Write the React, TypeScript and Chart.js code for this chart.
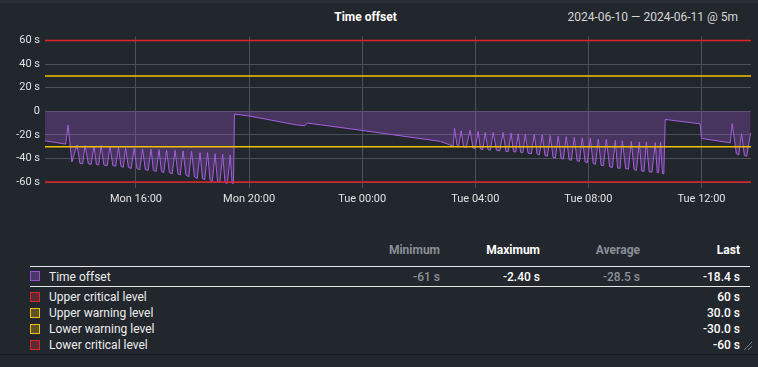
import React, { useEffect, useRef } from "react";
import { Chart, registerables } from "chart.js";

Chart.register(...registerables);

// Time axis: minutes since Mon 2024-06-10 00:00
const xRange = [767, 2265];
const xTicks = [960, 1200, 1440, 1680, 1920, 2160];
const yTicks = [-60, -40, -20, 0, 20, 40, 60];

// Time offset series (minutes, seconds)
const times = [
  767, 811, 816, 824,
  835, 841, 847, 852, 859, 865, 871, 876, 881, 886, 892, 899,
  905, 911, 917, 923, 928, 933, 938, 944, 950, 956, 962, 968,
  974, 980, 986, 992, 997, 1003, 1009, 1014, 1019, 1025, 1031, 1037,
  1043, 1049, 1054, 1060, 1066, 1072, 1078, 1084, 1090, 1096, 1101, 1106,
  1112, 1117, 1122, 1128, 1133, 1138, 1144, 1149, 1154, 1160, 1164, 1167,
  1169, 1200, 1300, 1318, 1324, 1440, 1606, 1633,
  1636, 1641, 1645, 1650, 1655, 1661, 1669, 1675, 1680, 1686, 1691, 1696,
  1701, 1707, 1712, 1718, 1725, 1732, 1739, 1745, 1750, 1756, 1761, 1766,
  1771, 1776, 1781, 1786, 1792, 1799, 1805, 1811, 1816, 1822, 1828, 1833,
  1839, 1845, 1850, 1856, 1862, 1867, 1873, 1879, 1884, 1890, 1896, 1901,
  1907, 1913, 1918, 1924, 1930, 1935, 1941, 1947, 1952, 1958, 1965, 1971,
  1977, 1982, 1987, 1992, 1999, 2005, 2011, 2017, 2022, 2028, 2033, 2038,
  2043, 2049, 2055, 2062, 2066, 2069, 2073, 2077, 2080,
  2083, 2157, 2160, 2221, 2225, 2234, 2239, 2245, 2251, 2256, 2264,
];
const offsets = [
  -25, -27.8, -11.7, -43,
  -28.5, -44, -44.5, -29, -44.5, -45, -29.5, -45, -45.5, -29, -45.5, -46,
  -30, -46, -46.5, -30.5, -46.5, -47.5, -31, -47.5, -48.5, -31.5, -48.5, -49.5,
  -32, -49.5, -50, -32, -50, -51, -32.5, -51, -52, -33, -52, -53,
  -33, -53, -54, -33.5, -54, -55.5, -34, -55.5, -57, -35, -57, -58,
  -35, -58, -59.5, -36, -59.5, -60.5, -36.5, -60.5, -61, -37, -61, -61,
  -2.4, -4, -11.5, -12.2, -10, -16.2, -25.5, -29.5,
  -14.5, -28.6, -29, -16.5, -30, -30.5, -16, -31, -31.5, -17, -32, -32.5,
  -18, -32.5, -33, -18, -33, -33.5, -18, -34, -34, -18.5, -34, -34.5,
  -19, -34.7, -35, -19.5, -35.5, -36, -19.5, -36, -37, -20, -37.5, -38,
  -20.5, -39, -39.5, -21, -40, -40.5, -21.5, -41, -41.5, -22, -42, -42.5,
  -22.5, -43, -43.5, -23, -44, -45, -23.5, -45.8, -46, -24, -47, -47.5,
  -24.5, -48, -48.5, -25, -48.6, -49, -25.5, -49.5, -50, -26, -50.6, -51,
  -26, -51.4, -51.5, -26.5, -52, -52, -26, -52.8, -53,
  -6.9, -10.6, -23, -26.7, -10.5, -36, -37, -19, -37.5, -38, -18.4,
];

// Threshold levels (seconds)
const upperCritical = 60;
const upperWarning = 30;
const lowerWarning = -30;
const lowerCritical = -60;

// Legend table
const legendHeaders = ["Minimum", "Maximum", "Average", "Last"];
const seriesStats = ["-61 s", "-2.40 s", "-28.5 s", "-18.4 s"];
const levelNames = ["Upper critical level", "Upper warning level", "Lower warning level", "Lower critical level"];
const levelLast = ["60 s", "30.0 s", "-30.0 s", "-60 s"];

const RED = "#e0242a";
const YELLOW = "#f2c200";
const PURPLE = "#a65fdc";
const FONT = "Roboto, 'Noto Sans', sans-serif";

function fmtTime(v: number): string {
  const day = Math.floor(v / 1440);
  const mins = v - day * 1440;
  const h = Math.floor(mins / 60);
  const m = Math.round(mins - h * 60);
  const dn = day === 0 ? "Mon" : "Tue";
  return `${dn} ${String(h).padStart(2, "0")}:${String(m).padStart(2, "0")}`;
}

function levelLine(v: number) {
  return [
    { x: xRange[0], y: v },
    { x: xRange[1], y: v },
  ];
}

export default function App() {
  const ref = useRef<HTMLCanvasElement | null>(null);

  useEffect(() => {
    if (!ref.current) return;
    const series = times.map((t, i) => ({ x: t, y: offsets[i] }));
    const lineDs = (data: any, color: string) => ({
      data,
      borderColor: color,
      borderWidth: 1.5,
      pointRadius: 0,
      fill: false,
      order: 0,
    });
    const chart = new Chart(ref.current, {
      type: "line",
      data: {
        datasets: [
          {
            data: series,
            borderColor: PURPLE,
            borderWidth: 1,
            pointRadius: 0,
            tension: 0,
            fill: "origin",
            backgroundColor: "rgba(150, 88, 205, 0.32)",
            order: 10,
          } as any,
          lineDs(levelLine(upperCritical), RED),
          lineDs(levelLine(upperWarning), YELLOW),
          lineDs(levelLine(lowerWarning), YELLOW),
          lineDs(levelLine(lowerCritical), RED),
        ],
      },
      options: {
        animation: false,
        responsive: false,
        maintainAspectRatio: false,
        layout: { padding: { top: 9, right: 7, left: 0, bottom: 0 } },
        plugins: {
          legend: { display: false },
          tooltip: { enabled: false },
          title: { display: false },
        },
        scales: {
          x: {
            type: "linear",
            min: xRange[0],
            max: xRange[1],
            afterBuildTicks: (s: any) => {
              s.ticks = xTicks.map((v) => ({ value: v }));
            },
            afterFit: (s: any) => {
              s.height = 22;
            },
            ticks: {
              color: "#e2e2e2",
              font: { family: FONT, size: 11 },
              padding: 5,
              maxRotation: 0,
              autoSkip: false,
              callback: (v: any) => fmtTime(Number(v)),
            },
            grid: { color: "#4b5059", drawTicks: false, lineWidth: 1 },
            border: { display: false },
          },
          y: {
            type: "linear",
            min: -65,
            max: 63.3,
            afterBuildTicks: (s: any) => {
              s.ticks = yTicks.map((v) => ({ value: v }));
            },
            afterFit: (s: any) => {
              s.width = 45;
            },
            ticks: {
              color: "#e2e2e2",
              font: { family: FONT, size: 11 },
              padding: 5,
              autoSkip: false,
              callback: (v: any) => (Number(v) === 0 ? "0" : `${v} s`),
            },
            grid: { color: "#4b5059", drawTicks: false, lineWidth: 1 },
            border: { display: false },
          },
        },
      } as any,
    });
    return () => chart.destroy();
  }, []);

  const abs = (s: React.CSSProperties): React.CSSProperties => ({ position: "absolute", ...s });
  const colRight = [318, 218, 118, 18];
  const swatch = (border: string, fill: string, top: number) => (
    <div
      style={abs({
        left: 30,
        top,
        width: 8,
        height: 8,
        border: `1.5px solid ${border}`,
        background: fill,
      })}
    />
  );
  const rowCenters = [297, 313, 329, 345];
  const levelColors = [
    [RED, "#5a2a31"],
    [YELLOW, "#5c5128"],
    [YELLOW, "#5c5128"],
    [RED, "#5a2a31"],
  ];
  const headerColors = ["#8b9098", "#ffffff", "#8b9098", "#ffffff"];
  const statColors = ["#8b9098", "#ffffff", "#8b9098", "#ffffff"];

  return (
    <div
      style={{
        position: "fixed",
        left: 0,
        top: 0,
        width: 758,
        height: 367,
        background: "#22262d",
        fontFamily: FONT,
        overflow: "hidden",
      }}
    >
      <div style={abs({ left: 0, top: 0, width: 758, height: 3, background: "#2a2e35" })} />
      <div
        style={abs({
          left: 300,
          width: 131,
          top: 10,
          textAlign: "center",
          color: "#ffffff",
          fontWeight: 700,
          fontSize: 12,
          lineHeight: "14px",
        })}
      >
        Time offset
      </div>
      <div
        style={abs({
          right: 20,
          top: 10,
          color: "#d6d6d6",
          fontSize: 12,
          lineHeight: "14px",
          whiteSpace: "nowrap",
        })}
      >
        2024-06-10 — 2024-06-11 @ 5m
      </div>
      <canvas ref={ref} width={758} height={185} style={abs({ left: 0, top: 25, width: 758, height: 185 })} />

      {legendHeaders.map((h, i) => (
        <div
          key={h}
          style={abs({
            right: colRight[i],
            top: 243,
            color: headerColors[i],
            fontWeight: 700,
            fontSize: 12,
            lineHeight: "14px",
          })}
        >
          {h}
        </div>
      ))}
      <div style={abs({ left: 30, top: 266, width: 720, height: 1, background: "#e6e6e6" })} />
      {swatch("#9a4fcc", "#4a3868", 271)}
      <div style={abs({ left: 49, top: 270, color: "#eeeeee", fontSize: 12, lineHeight: "14px" })}>
        Time offset
      </div>
      {seriesStats.map((s, i) => (
        <div
          key={i}
          style={abs({
            right: colRight[i],
            top: 270,
            color: statColors[i],
            fontWeight: 500,
            fontSize: 12,
            lineHeight: "14px",
          })}
        >
          {s}
        </div>
      ))}
      <div style={abs({ left: 30, top: 286, width: 720, height: 1, background: "#e6e6e6" })} />
      {levelNames.map((n, i) => (
        <React.Fragment key={n}>
          {swatch(levelColors[i][0], levelColors[i][1], rowCenters[i] - 5.5)}
          <div
            style={abs({
              left: 49,
              top: rowCenters[i] - 7,
              color: "#eeeeee",
              fontSize: 12,
              lineHeight: "14px",
            })}
          >
            {n}
          </div>
          <div
            style={abs({
              right: colRight[3],
              top: rowCenters[i] - 7,
              color: "#ffffff",
              fontWeight: 500,
              fontSize: 12,
              lineHeight: "14px",
            })}
          >
            {levelLast[i]}
          </div>
        </React.Fragment>
      ))}
      <div
        style={abs({
          left: 742,
          top: 340,
          width: 10,
          height: 10,
          background:
            "repeating-linear-gradient(135deg, transparent 0px, transparent 2px, #7a7f86 2px, #7a7f86 3px)",
          clipPath: "polygon(100% 0, 100% 100%, 0 100%)",
        })}
      />
      <div style={abs({ left: 0, top: 354, width: 758, height: 1, background: "#181b20" })} />
      <div style={abs({ left: 0, top: 355, width: 758, height: 12, background: "#23272e" })} />
    </div>
  );
}
